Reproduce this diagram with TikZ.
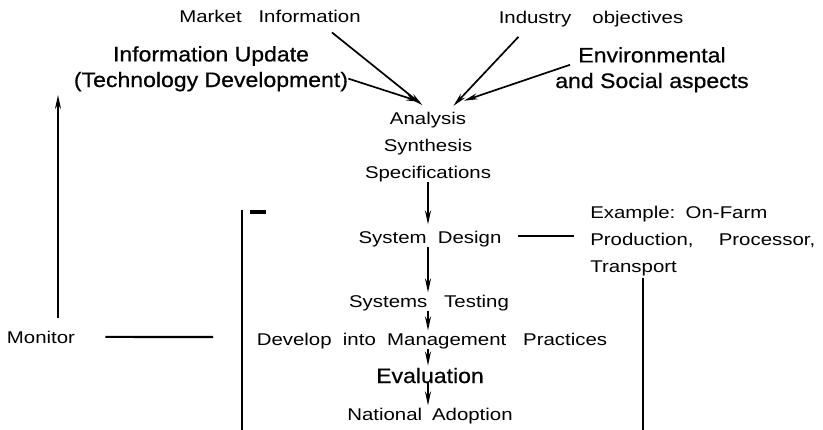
\documentclass[tikz,border=0pt]{standalone}
\usepackage{fontspec}
\setmainfont{Liberation Sans}[FakeStretch=1.2]
\newfontfamily\bigfont{Liberation Sans}[FakeStretch=1.1,FakeBold=0.6]
\usetikzlibrary{arrows.meta,calc}
\begin{document}
\begin{tikzpicture}[x=0.25mm,y=-0.25mm]
	\tikzstyle{txt}=[inner sep=0pt,anchor=base,font=\fontsize{12.1pt}{19.2pt}\selectfont]
	\tikzstyle{big}=[inner sep=0pt,anchor=base,font=\bigfont\fontsize{14.9pt}{18.2pt}\selectfont]
	\tikzstyle{arr}=[-{Stealth[length=3.5mm,width=1.5mm]},line width=1.2pt,shorten >=0.5mm]
	\tikzstyle{ln}=[line width=1.5pt]
	\useasboundingbox (0,0) rectangle (823,430);
	\begin{scope}
	\node[txt] (mi) at (270,22) {Market\hspace{12pt}Information};
	\node[txt] (io) at (591,23) {Industry\hspace{15pt}objectives};
	\node[big,align=center] (iu) at (211,87) {Information Update\\(Technology Development)};
	\node[big,align=center] (env) at (652,88) {Environmental\\and Social aspects};
	\node[txt,align=center] (ana) at (428,178) {Analysis\\Synthesis\\Specifications};
	\node[txt] (design) at (430,243) {System\hspace{8pt}Design};
	\node[txt] (testing) at (429,307) {Systems\hspace{12pt}Testing};
	\node[txt] (develop) at (432,345) {Develop\hspace{4pt} into\hspace{4pt} Management\hspace{8pt} Practices};
	\node[big] (eval) at (430,383) {Evaluation};
	\node[txt] (adoption) at (430,420) {National\hspace{7pt}Adoption};
	\node[txt] (monitor) at (41,343) {Monitor};
	\node[txt,anchor=base west,align=left] (ex) at (590,272) {Example:\hspace{2pt} On-Farm\\Production,\hspace{18pt}Processor,\\Transport};
	\end{scope}

	% inputs
	\draw[arr] ($(mi.south east)+(-29,10)$) -- ($(ana.north)+(-4,-5)$);
	\draw[arr] ($(iu.south east)+(0,-13)$) -- ($(ana.north)+(-6,-9)$);
	\draw[arr] ($(io.south west)+(20,10)$) -- ($(ana.north)+(24,-4)$);
	\draw[arr] ($(env.west)+(15,-5)$) -- ($(ana.north)+(34,-10)$);

	% main chain
	\draw[arr,shorten >=1.5mm] (ana.south) -- (ana.south |- design.north);
	\draw[arr] (design.south -| ana) -- (testing.north -| ana);
	\draw[arr] (testing.south -| ana) -- (develop.north -| ana);
	\draw[arr] (develop.south -| ana) -- (eval.north -| ana);
	\draw[arr] (eval.south -| ana) -- (adoption.north -| ana);

	% feedback
	\coordinate (lt) at (242,210);
	\coordinate (lb) at (242,430);
	\coordinate (mj) at (213,337);
	\coordinate (up) at (58,93);
	\coordinate (rb) at (643,430);
	\draw[ln] (lt) -- (lb);
	\draw[line width=1mm] (250,212) -- (266,212);
	\draw[ln] ($(monitor.east)+(30,0)$) -- (mj);
	\draw[arr] ($(monitor.north)+(17,-12)$) -- (up);
	\draw[ln] ($(ex.west |- design.east)+(-16,-3)$) -- ($(design.east)+(16,-3)$);
	\draw[ln] ($(ex.south west)+(53,2)$) -- (rb);
\end{tikzpicture}
\end{document}
